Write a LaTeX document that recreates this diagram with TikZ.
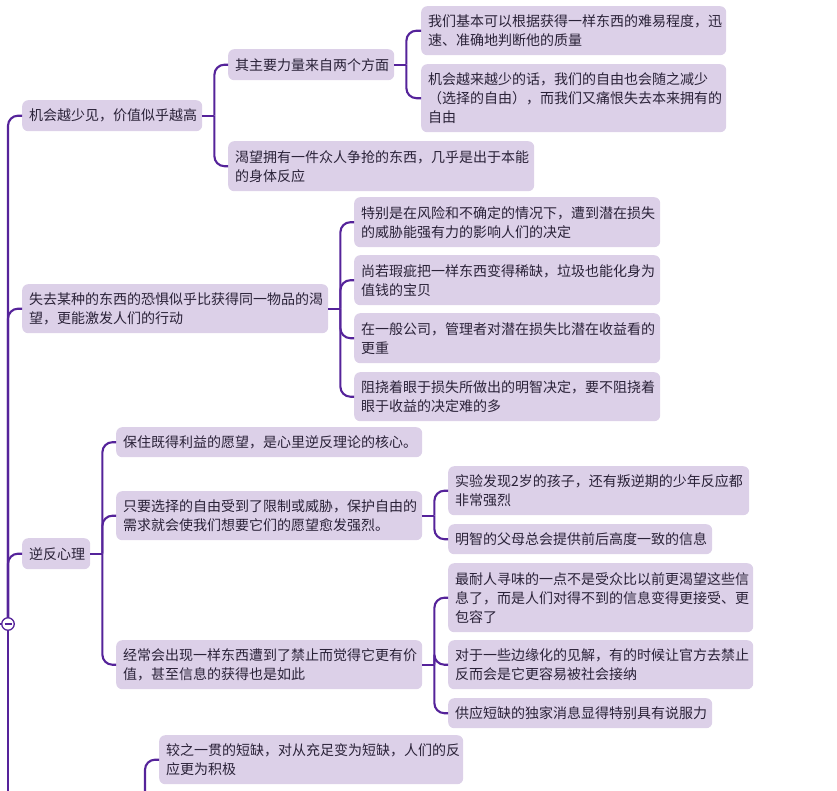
\documentclass[tikz,border=0pt]{standalone}
\usepackage{fontspec}
\newfontfamily\cjkfont{Noto Sans CJK SC}
\definecolor{nfill}{HTML}{DCD0E8}
\definecolor{lcol}{HTML}{55239A}
\definecolor{tcol}{HTML}{2A2238}
\begin{document}
\begin{tikzpicture}[x=1pt,y=-1pt,
  box/.style={fill=nfill, rounded corners=6pt, inner xsep=7pt, inner ysep=0pt,
    anchor=north west, align=left, text=tcol,
    font=\cjkfont\fontsize{14}{19}\selectfont},
  conn/.style={draw=lcol, line width=2.1pt, rounded corners=10pt},
  stub/.style={draw=lcol, line width=2.1pt}]
\useasboundingbox (0,0) rectangle (837,790);
\clip (0,0) rectangle (837,790);

% level 1
\node[box, minimum width=180pt, minimum height=31pt, text width=166pt] (A1) at (22,100) {机会越少见，价值似乎越高};
\node[box, minimum width=306pt, minimum height=49pt, text width=292pt] (A2) at (22,284) {失去某种的东西的恐惧似乎比获得同一物品的渴\\望，更能激发人们的行动};
\node[box, minimum width=68pt, minimum height=31pt, text width=54pt] (A3) at (22,538) {逆反心理};

% under A1
\node[box, minimum width=166pt, minimum height=31pt, text width=152pt] (B1) at (228,49) {其主要力量来自两个方面};
\node[box, minimum width=306pt, minimum height=50pt, text width=292pt] (B2) at (228,141) {渴望拥有一件众人争抢的东西，几乎是出于本能\\的身体反应};
\node[box, minimum width=305pt, minimum height=49pt, text width=291pt] (C1) at (421,6) {我们基本可以根据获得一样东西的难易程度，迅\\速、准确地判断他的质量};
\node[box, minimum width=305pt, minimum height=68pt, text width=291pt] (C2) at (421,64) {机会越来越少的话，我们的自由也会随之减少\\（选择的自由），而我们又痛恨失去本来拥有的\\自由};

% under A2
\node[box, minimum width=306pt, minimum height=50pt, text width=292pt] (D1) at (354,197) {特别是在风险和不确定的情况下，遭到潜在损失\\的威胁能强有力的影响人们的决定};
\node[box, minimum width=306pt, minimum height=50pt, text width=292pt] (D2) at (354,255) {尚若瑕疵把一样东西变得稀缺，垃圾也能化身为\\值钱的宝贝};
\node[box, minimum width=306pt, minimum height=50pt, text width=292pt] (D3) at (354,313) {在一般公司，管理者对潜在损失比潜在收益看的\\更重};
\node[box, minimum width=306pt, minimum height=49pt, text width=292pt] (D4) at (354,372) {阻挠着眼于损失所做出的明智决定，要不阻挠着\\眼于收益的决定难的多};

% under A3
\node[box, minimum width=306pt, minimum height=30pt, text width=292pt] (E1) at (116,427) {保住既得利益的愿望，是心里逆反理论的核心。};
\node[box, minimum width=306pt, minimum height=49pt, text width=292pt] (E2) at (116,491) {只要选择的自由受到了限制或威胁，保护自由的\\需求就会使我们想要它们的愿望愈发强烈。};
\node[box, minimum width=306pt, minimum height=49pt, text width=292pt] (E3) at (116,640) {经常会出现一样东西遭到了禁止而觉得它更有价\\值，甚至信息的获得也是如此};

\node[box, minimum width=301pt, minimum height=49pt, text width=287pt] (F1) at (448,466) {实验发现2岁的孩子，还有叛逆期的少年反应都\\非常强烈};
\node[box, minimum width=264pt, minimum height=30pt, text width=250pt] (F2) at (448,524) {明智的父母总会提供前后高度一致的信息};

\node[box, minimum width=305pt, minimum height=69pt, text width=291pt] (G1) at (448,563) {最耐人寻味的一点不是受众比以前更渴望这些信\\息了，而是人们对得不到的信息变得更接受、更\\包容了};
\node[box, minimum width=305pt, minimum height=49pt, text width=291pt] (G2) at (448,640) {对于一些边缘化的见解，有的时候让官方去禁止\\反而会是它更容易被社会接纳};
\node[box, minimum width=264pt, minimum height=30pt, text width=250pt] (G3) at (448,698) {供应短缺的独家消息显得特别具有说服力};

\node[box, minimum width=304pt, minimum height=49pt, text width=290pt] (H1) at (159,735) {较之一贯的短缺，对从充足变为短缺，人们的反\\应更为积极};

% trunk
\coordinate (trunk) at (8,624);
\coordinate (trunkend) at (8,800);
\coordinate (jA4) at (145,800);
\draw[conn] (trunk) |- (A1.west);
\draw[conn] (trunk) |- (A2.west);
\draw[conn] (trunk) |- (A3.west);
\draw[stub] (trunk) -- (trunkend);
\draw[conn] (jA4) |- (H1.west);

% A1
\draw[stub] (A1.east) -- ++(12,0) coordinate (jA1);
\draw[conn] (jA1) |- (B1.west);
\draw[conn] (jA1) |- (B2.west);
\draw[stub] (B1.east) -- ++(12,0) coordinate (jB1);
\draw[conn] (jB1) |- (C1.west);
\draw[conn] (jB1) |- (C2.west);

% A2
\draw[stub] (A2.east) -- ++(12,0) coordinate (jA2);
\foreach \c in {D1,D2,D3,D4} \draw[conn] (jA2) |- (\c.west);

% A3
\draw[stub] (A3.east) -- ++(12,0) coordinate (jA3);
\foreach \c in {E1,E2,E3} \draw[conn] (jA3) |- (\c.west);
\draw[stub] (E2.east) -- ++(12,0) coordinate (jE2);
\foreach \c in {F1,F2} \draw[conn] (jE2) |- (\c.west);
\draw[stub] (E3.east) -- ++(12,0) coordinate (jE3);
\foreach \c in {G1,G2,G3} \draw[conn] (jE3) |- (\c.west);

% collapse circle
\node[circle, draw=lcol, fill=white, line width=1.3pt, minimum size=12.5pt, inner sep=0pt] (root) at (trunk) {};
\draw[lcol, line width=1.3pt] ([xshift=-3.5pt]root.center) -- ([xshift=3.5pt]root.center);
\draw[stub] (root.west) -- ++(-4,0);
\end{tikzpicture}
\end{document}
